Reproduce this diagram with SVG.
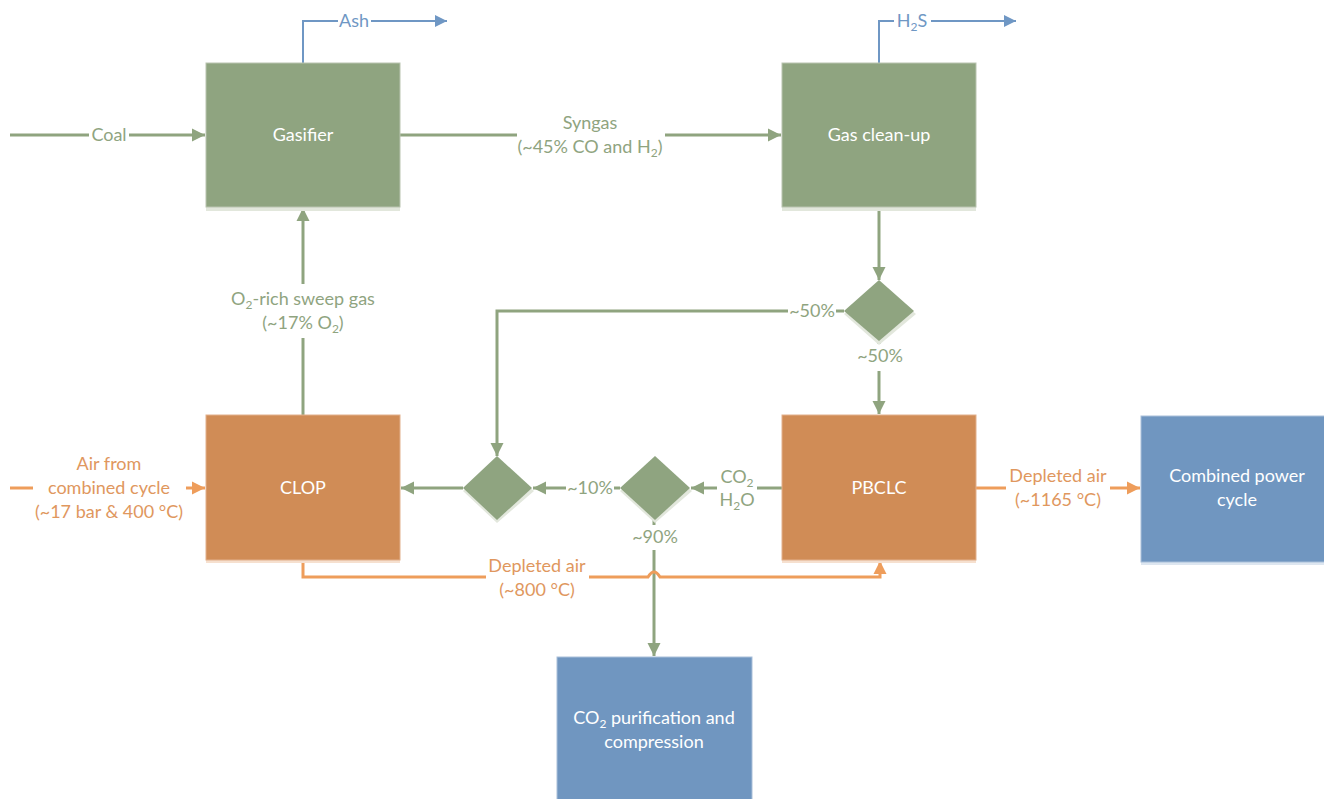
<svg xmlns="http://www.w3.org/2000/svg" width="1324" height="799" viewBox="0 0 1324 799">
<style>
text{font-family:Lato,"Open Sans","Liberation Sans",sans-serif;font-size:18px;text-anchor:middle}
.nt{fill:#ffffff}
.gt{fill:#8fa47f}
.ot{fill:#e0975e}
.bt{fill:#6f97c4}
.gbox{fill:#8fa480;stroke:#b9c4b0;stroke-width:1}
.obox{fill:#d08c56;stroke:#e2b08c;stroke-width:1}
.bbox{fill:#7096c0;stroke:#a9bfd9;stroke-width:1}
.gsh{fill:#e2e7dc}
.osh{fill:#f6e0cf}
.bsh{fill:#dde6f0}
.gl{fill:none;stroke:#8fa47f;stroke-width:3}
.ol{fill:none;stroke:#ee9d5b;stroke-width:3}
.bl{fill:none;stroke:#6f97c4;stroke-width:2}
.sub{font-size:12px}
</style>
<defs>
<marker id="ag" markerUnits="userSpaceOnUse" markerWidth="14" markerHeight="14" refX="13" refY="7" orient="auto"><path d="M0,0.5 L13,7 L0,13.5 z" fill="#8fa47f"/></marker>
<marker id="ao" markerUnits="userSpaceOnUse" markerWidth="14" markerHeight="14" refX="13" refY="7" orient="auto"><path d="M0,0.5 L13,7 L0,13.5 z" fill="#ee9d5b"/></marker>
<marker id="ab" markerUnits="userSpaceOnUse" markerWidth="14" markerHeight="14" refX="12" refY="6" orient="auto"><path d="M0,0 L12,6 L0,12 z" fill="#6f97c4"/></marker>
</defs>

<g id="connectors">
<!-- Coal -->
<path class="gl" d="M10,135 H89"/>
<path class="gl" d="M129,135 H205" marker-end="url(#ag)"/>
<text class="gt" x="109" y="141">Coal</text>
<!-- Ash -->
<path class="bl" d="M303,63 V21 H338"/>
<path class="bl" d="M371,21 H447" marker-end="url(#ab)"/>
<text class="bt" x="354" y="27">Ash</text>
<!-- Syngas -->
<path class="gl" d="M400,135 H517"/>
<path class="gl" d="M665,135 H781" marker-end="url(#ag)"/>
<text class="gt" x="590" y="129">Syngas</text>
<text class="gt" x="590" y="153">(~45% CO and H<tspan class="sub" dy="4">2</tspan><tspan dy="-4">)</tspan></text>
<!-- H2S -->
<path class="bl" d="M879,63 V21 H894"/>
<path class="bl" d="M931,21 H1016" marker-end="url(#ab)"/>
<text class="bt" x="912" y="27">H<tspan class="sub" dy="4">2</tspan><tspan dy="-4">S</tspan></text>
<!-- Gas clean-up to splitter -->
<path class="gl" d="M879,207 V280" marker-end="url(#ag)"/>
<!-- splitter 1 left -->
<path class="gl" d="M844,311 H836"/>
<text class="gt" x="812" y="317">~50%</text>
<path class="gl" d="M788,311 H497 V456" marker-end="url(#ag)"/>
<!-- splitter 1 bottom -->
<path class="gl" d="M879,341 V344"/>
<text class="gt" x="880" y="362">~50%</text>
<path class="gl" d="M879,371 V414" marker-end="url(#ag)"/>
<!-- PBCLC to splitter 3 -->
<path class="gl" d="M782,488 H757"/>
<path class="gl" d="M717,488 H691" marker-end="url(#ag)"/>
<text class="gt" x="737" y="483">CO<tspan class="sub" dy="4">2</tspan></text>
<text class="gt" x="737" y="506">H<tspan class="sub" dy="4">2</tspan><tspan dy="-4">O</tspan></text>
<!-- splitter 3 to splitter 2 -->
<path class="gl" d="M620,488 H614"/>
<text class="gt" x="590" y="494">~10%</text>
<path class="gl" d="M566,488 H533" marker-end="url(#ag)"/>
<!-- splitter 2 to CLOP -->
<path class="gl" d="M463,488 H401" marker-end="url(#ag)"/>
<!-- splitter 3 down -->
<path class="gl" d="M654,520 V525"/>
<text class="gt" x="655" y="543">~90%</text>
<path class="gl" d="M654,550 V656" marker-end="url(#ag)"/>
<!-- O2 sweep -->
<path class="gl" d="M303,415 V338"/>
<path class="gl" d="M303,284 V208" marker-end="url(#ag)"/>
<text class="gt" x="303" y="305">O<tspan class="sub" dy="4">2</tspan><tspan dy="-4">-rich sweep gas</tspan></text>
<text class="gt" x="303" y="329">(~17% O<tspan class="sub" dy="4">2</tspan><tspan dy="-4">)</tspan></text>
<!-- Air from combined cycle -->
<path class="ol" d="M10,488 H33"/>
<path class="ol" d="M186,488 H205" marker-end="url(#ao)"/>
<text class="ot" x="109" y="470">Air from</text>
<text class="ot" x="109" y="494">combined cycle</text>
<text class="ot" x="109" y="518">(~17 bar &amp; 400 °C)</text>
<!-- Depleted air 800 -->
<path class="ol" d="M303,560 V577 H486"/>
<path class="ol" d="M589,577 H648 Q654,567 660,577 H880 V561" marker-end="url(#ao)"/>
<text class="ot" x="537" y="572">Depleted air</text>
<text class="ot" x="537" y="596">(~800 °C)</text>
<!-- Depleted air 1165 -->
<path class="ol" d="M976,488 H1006"/>
<path class="ol" d="M1110,488 H1140" marker-end="url(#ao)"/>
<text class="ot" x="1058" y="482">Depleted air</text>
<text class="ot" x="1058" y="506">(~1165 °C)</text>
</g>

<g id="gasifier">
<rect class="gsh" x="206" y="66" width="194" height="145"/>
<rect class="gbox" x="206" y="63" width="194" height="144"/>
<text class="nt" x="303" y="141">Gasifier</text>
</g>
<g id="gas-cleanup">
<rect class="gsh" x="782" y="66" width="194" height="145"/>
<rect class="gbox" x="782" y="63" width="194" height="144"/>
<text class="nt" x="879" y="141">Gas clean-up</text>
</g>
<g id="splitter1">
<polygon class="gsh" points="879,284 916,314 879,345 844,314"/>
<polygon fill="#8fa480" points="879,280 914,311 879,341 844,311"/>
</g>
<g id="splitter2">
<polygon class="gsh" points="497,460 534,491 497,523 463,491"/>
<polygon fill="#8fa480" points="497,456 532,488 497,520 463,488"/>
</g>
<g id="splitter3">
<polygon class="gsh" points="655,460 692,491 655,523 620,491"/>
<polygon fill="#8fa480" points="655,456 690,488 655,520 620,488"/>
</g>
<g id="clop">
<rect class="osh" x="206" y="418" width="194" height="145"/>
<rect class="obox" x="206" y="415" width="194" height="145"/>
<text class="nt" x="303" y="494">CLOP</text>
</g>
<g id="pbclc">
<rect class="osh" x="782" y="418" width="194" height="145"/>
<rect class="obox" x="782" y="415" width="194" height="145"/>
<text class="nt" x="879" y="494">PBCLC</text>
</g>
<g id="combined-power-cycle">
<rect class="bsh" x="1141" y="419" width="195" height="146"/>
<rect class="bbox" x="1141" y="416" width="195" height="146"/>
<text class="nt" x="1237" y="482">Combined power</text>
<text class="nt" x="1237" y="506">cycle</text>
</g>
<g id="co2-purification">
<rect class="bbox" x="557" y="657" width="195" height="160"/>
<text class="nt" x="654" y="724">CO<tspan class="sub" dy="4">2</tspan><tspan dy="-4"> purification and</tspan></text>
<text class="nt" x="654" y="748">compression</text>
</g>
</svg>
